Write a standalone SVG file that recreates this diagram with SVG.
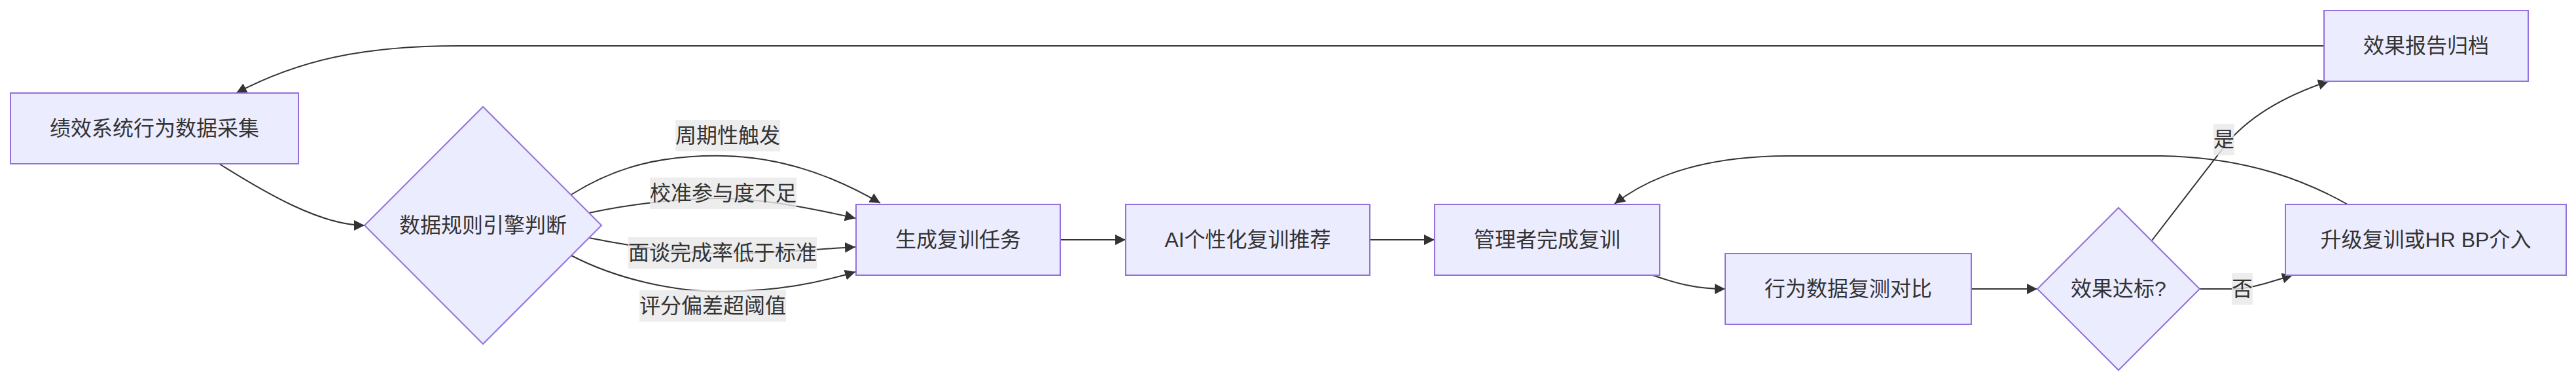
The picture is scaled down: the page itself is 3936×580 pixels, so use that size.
<svg xmlns="http://www.w3.org/2000/svg" width="3936" height="580" viewBox="0 0 3936 580">
<style>
  .node rect, .node polygon { fill: #ECECFF; stroke: #9370DB; stroke-width: 2; }
  .node text { font-family: "Liberation Sans", "Noto Sans CJK SC", sans-serif; font-size: 32px; fill: #333333; text-anchor: middle; dominant-baseline: central; }
  .edge { fill: none; stroke: #333333; stroke-width: 2; marker-end: url(#arrow); }
  .elabel rect { fill: rgba(232,232,232,0.8); }
  .elabel text { font-family: "Liberation Sans", "Noto Sans CJK SC", sans-serif; font-size: 32px; fill: #333333; text-anchor: middle; dominant-baseline: central; }
</style>
<defs>
  <marker id="arrow" viewBox="0 0 10 10" refX="10" refY="5" markerUnits="userSpaceOnUse" markerWidth="16" markerHeight="16" orient="auto">
    <path d="M 0 0 L 10 5 L 0 10 z" fill="#333333"/>
  </marker>
</defs>
<rect width="3936" height="580" fill="#ffffff"/>

<g id="connectors">
  <path class="edge" d="M 3551,70 L 700,70 C 560,70 460,90 361,142"/>
  <path class="edge" d="M 335,250 C 405,294 490,344 557,344"/>
  <path class="edge" d="M 873,297 C 940,255 1010,236 1107,238 C 1200,240 1280,272 1345,310"/>
  <path class="edge" d="M 900,325 C 960,312 1040,302 1105,303 C 1170,304 1240,318 1307,333"/>
  <path class="edge" d="M 900,363 C 960,375 1040,387 1105,387 C 1180,387 1250,380 1307,377"/>
  <path class="edge" d="M 873,390 C 940,425 1030,446 1105,445 C 1190,444 1250,432 1307,415"/>
  <path class="edge" d="M 1620,366 L 1720,366"/>
  <path class="edge" d="M 2093,366 L 2192,366"/>
  <path class="edge" d="M 2525,420 C 2560,432 2590,441 2636,441"/>
  <path class="edge" d="M 3012,441 L 3113,441"/>
  <path class="edge" d="M 3288,367 L 3400,222 C 3430,185 3480,150 3558,124"/>
  <path class="edge" d="M 3361,441 L 3410,441 C 3440,441 3470,430 3503,420"/>
  <path class="edge" d="M 3587,312 C 3530,280 3440,240 3300,238 L 2733,238 C 2620,238 2530,262 2467,311"/>
</g>

<g id="edge-labels">
  <g class="elabel"><rect x="1032" y="183" width="160" height="48"/><text x="1112" y="207">周期性触发</text></g>
  <g class="elabel"><rect x="993" y="271" width="224" height="48"/><text x="1105" y="295">校准参与度不足</text></g>
  <g class="elabel"><rect x="960" y="362" width="288" height="48"/><text x="1104" y="386">面谈完成率低于标准</text></g>
  <g class="elabel"><rect x="977" y="443" width="224" height="48"/><text x="1089" y="467">评分偏差超阈值</text></g>
  <g class="elabel"><rect x="3382" y="189" width="32" height="48"/><text x="3398" y="213">是</text></g>
  <g class="elabel"><rect x="3410" y="417" width="32" height="48"/><text x="3426" y="441">否</text></g>
</g>

<g id="node-A" class="node"><rect x="16" y="142" width="440" height="108"/><text x="236" y="196">绩效系统行为数据采集</text></g>
<g id="node-B" class="node"><polygon points="738,163 919,344 738,525 557,344"/><text x="738" y="344">数据规则引擎判断</text></g>
<g id="node-C" class="node"><rect x="1308" y="312" width="312" height="108"/><text x="1464" y="366">生成复训任务</text></g>
<g id="node-D" class="node"><rect x="1720" y="312" width="373" height="108"/><text x="1906.5" y="366">AI个性化复训推荐</text></g>
<g id="node-E" class="node"><rect x="2192" y="312" width="344" height="108"/><text x="2364" y="366">管理者完成复训</text></g>
<g id="node-F" class="node"><rect x="2636" y="387" width="376" height="108"/><text x="2824" y="441">行为数据复测对比</text></g>
<g id="node-G" class="node"><polygon points="3237,317 3361,441 3237,565 3113,441"/><text x="3237" y="441">效果达标?</text></g>
<g id="node-H" class="node"><rect x="3492" y="312" width="429" height="108"/><text x="3706.5" y="366">升级复训或HR BP介入</text></g>
<g id="node-I" class="node"><rect x="3551" y="16" width="312" height="108"/><text x="3707" y="70">效果报告归档</text></g>
</svg>
